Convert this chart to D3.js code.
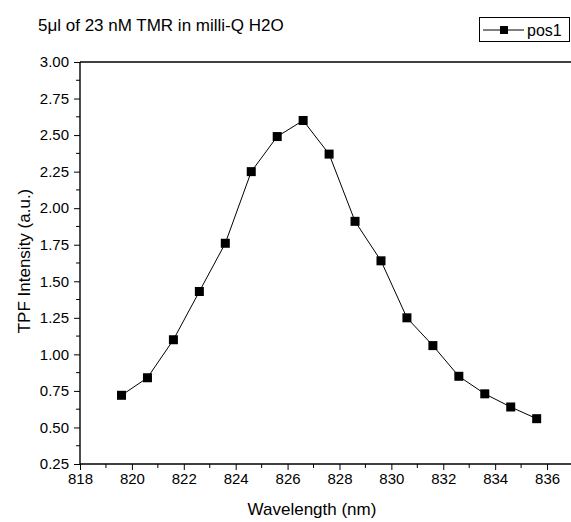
<!DOCTYPE html>
<html>
<head>
<meta charset="utf-8">
<script src="https://cdn.jsdelivr.net/npm/d3@7"></script>
<style>
  body { margin: 0; background: #fff; }
  svg { font-family: "Liberation Sans", Arial, sans-serif; }
  text { fill: #000; }
</style>
</head>
<body>
<svg width="571" height="522"></svg>
<script>
// data
var wavelength = [819.6, 820.6, 821.6, 822.6, 823.6, 824.6, 825.6, 826.6, 827.6,
                  828.6, 829.6, 830.6, 831.6, 832.6, 833.6, 834.6, 835.6];
var intensity = [0.72, 0.84, 1.10, 1.43, 1.76, 2.25, 2.49, 2.60, 2.37,
                 1.91, 1.64, 1.25, 1.06, 0.85, 0.73, 0.64, 0.56];
var xTicks = [818, 820, 822, 824, 826, 828, 830, 832, 834, 836];
var yTicks = [0.25, 0.50, 0.75, 1.00, 1.25, 1.50, 1.75, 2.00, 2.25, 2.50, 2.75, 3.00];
var seriesName = "pos1";
var title = "5\u03bcl of 23 nM TMR in milli-Q H2O";

var svg = d3.select("svg");

var pLeft = 80, pRight = 573, pTop = 62, pBottom = 464;

var x = d3.scaleLinear().domain([818, 837]).range([pLeft, pRight]);
var y = d3.scaleLinear().domain([0.25, 3.0]).range([pBottom, pTop]);

// minor ticks
var xMinor = d3.range(819, 837, 2);
var yMinor = d3.range(0.375, 3.0, 0.25);

var g = svg.append("g");

g.append("g")
  .selectAll("line")
  .data(xMinor).enter().append("line")
  .attr("x1", d => x(d)).attr("x2", d => x(d))
  .attr("y1", pBottom).attr("y2", pBottom + 4)
  .attr("stroke", "#000");

g.append("g")
  .selectAll("line")
  .data(yMinor).enter().append("line")
  .attr("y1", d => y(d)).attr("y2", d => y(d))
  .attr("x1", pLeft).attr("x2", pLeft - 4)
  .attr("stroke", "#000");

var xAxis = g.append("g")
  .attr("transform", "translate(0," + pBottom + ")")
  .call(d3.axisBottom(x).tickValues(xTicks).tickSize(6).tickPadding(3).tickFormat(d3.format("d")));

var yAxis = g.append("g")
  .attr("transform", "translate(" + pLeft + ",0)")
  .call(d3.axisLeft(y).tickValues(yTicks).tickSize(6).tickPadding(5).tickFormat(d3.format(".2f")));

[xAxis, yAxis].forEach(function(a) {
  a.selectAll("text").style("font-size", "15px").style("font-family", "Liberation Sans, Arial, sans-serif").attr("fill", "#000");
  a.select(".domain").attr("stroke-width", 1.4);
});
xAxis.select(".domain").attr("d", "M" + pLeft + ",0H" + pRight);
yAxis.select(".domain").attr("d", "M0," + pBottom + "V" + pTop);

// top border
g.append("line")
  .attr("x1", pLeft).attr("x2", pRight)
  .attr("y1", pTop).attr("y2", pTop)
  .attr("stroke", "#000").attr("stroke-width", 1.4);

// series
var line = d3.line()
  .x((d, i) => x(wavelength[i]))
  .y(d => y(d));

g.append("path")
  .datum(intensity)
  .attr("d", line)
  .attr("fill", "none")
  .attr("stroke", "#000")
  .attr("stroke-width", 1);

g.append("g")
  .selectAll("rect")
  .data(intensity).enter().append("rect")
  .attr("x", (d, i) => x(wavelength[i]) - 4.5)
  .attr("y", d => y(d) - 4.5)
  .attr("width", 9).attr("height", 9)
  .attr("fill", "#000");

// labels
svg.append("text")
  .attr("x", 312).attr("y", 515)
  .attr("text-anchor", "middle")
  .style("font-size", "17px")
  .text("Wavelength (nm)");

svg.append("text")
  .attr("transform", "translate(30,261) rotate(-90)")
  .attr("text-anchor", "middle")
  .style("font-size", "17px")
  .text("TPF Intensity (a.u.)");

svg.append("text")
  .attr("x", 38).attr("y", 31)
  .style("font-size", "17px")
  .text(title);

// legend
var lg = svg.append("g");
lg.append("rect")
  .attr("x", 479.5).attr("y", 17.5)
  .attr("width", 90).attr("height", 24)
  .attr("fill", "#fff").attr("stroke", "#000");
lg.append("line")
  .attr("x1", 483).attr("x2", 524).attr("y1", 30).attr("y2", 30)
  .attr("stroke", "#000");
lg.append("rect")
  .attr("x", 500).attr("y", 26).attr("width", 8).attr("height", 8)
  .attr("fill", "#000");
lg.append("text")
  .attr("x", 527).attr("y", 36)
  .style("font-size", "16px")
  .text(seriesName);
</script>
</body>
</html>
